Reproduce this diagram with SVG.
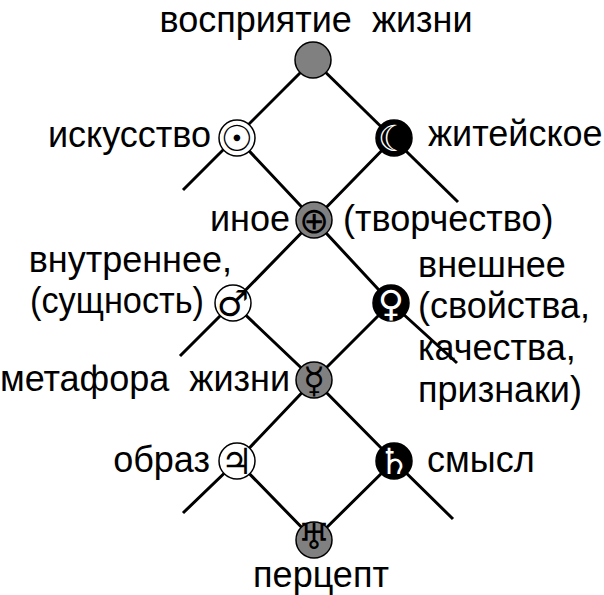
<svg xmlns="http://www.w3.org/2000/svg" width="604" height="595" viewBox="0 0 604 595">
<style>
.lbl{font-family:"Liberation Sans",Arial,sans-serif;font-size:36px;fill:#000;white-space:pre}
.sym{font-family:"DejaVu Sans",sans-serif;font-size:36px;text-anchor:middle;dominant-baseline:central}
.w{fill:#fff;stroke:#000;stroke-width:1.5}
.b{fill:#000;stroke:#000;stroke-width:1.5}
.g{fill:#808080;stroke:#000;stroke-width:1.5}
.edge{fill:none;stroke:#000;stroke-width:3;stroke-linejoin:round}
</style>
<rect width="604" height="595" fill="#fff"/>
<g id="connectors">
<polyline class="edge" points="313,60 183,190"/>
<polyline class="edge" points="313,60 458,202"/>
<polyline class="edge" points="394,138 314,220 233,303 180,356"/>
<polyline class="edge" points="237,138 314,220 391,303 457,363"/>
<polyline class="edge" points="391,303 314,380 237,461 183,513"/>
<polyline class="edge" points="233,303 314,380 394,461 453,519"/>
<polyline class="edge" points="237,461 314,540 394,461"/>
</g>
<g id="n-top"><circle class="g" cx="313" cy="60" r="18"/><text class="lbl" x="316" y="32" text-anchor="middle" xml:space="preserve">восприятие  жизни</text></g>
<g id="n-sun"><circle class="w" cx="237" cy="138" r="18"/><text class="sym" x="237" y="138" font-style="italic" fill="#000">☉</text><text class="lbl" x="211" y="147" text-anchor="end">искусство</text></g>
<g id="n-moon"><circle class="b" cx="394" cy="138" r="18"/><text class="sym" x="394" y="138" fill="#fff">☾</text><text class="lbl" x="428" y="146">житейское</text></g>
<g id="n-earth"><circle class="g" cx="314" cy="220" r="18"/><text class="sym" x="314" y="220" fill="#000">⊕</text><text class="lbl" x="290" y="231" text-anchor="end">иное</text><text class="lbl" x="343" y="231">(творчество)</text></g>
<g id="n-mars"><circle class="w" cx="233" cy="303" r="18"/><text class="sym" x="233" y="303" fill="#000">♂</text><text class="lbl" x="232" y="272" text-anchor="end">внутреннее,</text><text class="lbl" x="30" y="313" textLength="174" lengthAdjust="spacingAndGlyphs">(сущность)</text></g>
<g id="n-venus"><circle class="b" cx="391" cy="303" r="18"/><text class="sym" x="391" y="303" fill="#fff">♀</text><text class="lbl" x="418" y="277">внешнее</text><text class="lbl" x="418" y="318">(свойства,</text><text class="lbl" x="418" y="360">качества,</text><text class="lbl" x="418" y="402">признаки)</text></g>
<g id="n-mercury"><circle class="g" cx="314" cy="380" r="18"/><text class="sym" x="314" y="380" fill="#000">☿</text><text class="lbl" x="290" y="391" text-anchor="end" xml:space="preserve">метафора  жизни</text></g>
<g id="n-jupiter"><circle class="w" cx="237" cy="461" r="18"/><text class="sym" x="237" y="461" fill="#000">♃</text><text class="lbl" x="210" y="472" text-anchor="end">образ</text></g>
<g id="n-saturn"><circle class="b" cx="394" cy="461" r="18"/><text class="sym" x="394" y="461" fill="#fff">♄</text><text class="lbl" x="427" y="472">смысл</text></g>
<g id="n-uranus"><circle class="g" cx="314" cy="540" r="18"/><text class="sym" x="314" y="536" fill="#000" font-size="22">♅</text><text class="lbl" x="321" y="587" text-anchor="middle" font-size="34">перцепт</text></g>
</svg>
